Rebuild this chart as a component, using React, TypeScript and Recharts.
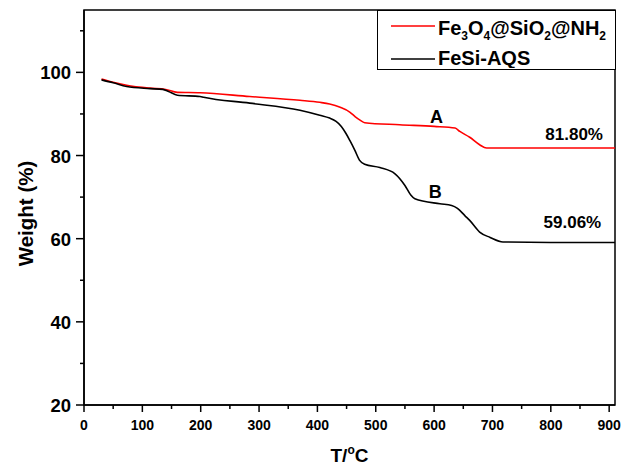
import {
  Label,
  Legend,
  Line,
  LineChart,
  ReferenceArea,
  ReferenceDot,
  XAxis,
  YAxis,
} from 'recharts';

const FONT = '"Liberation Sans", Arial, sans-serif';

// sample A: Fe3O4@SiO2@NH2 (red)
const tempA = [30, 50, 73, 113, 140, 160, 199, 284, 370, 404, 421, 439, 456, 465, 473, 481, 541, 600, 636, 644, 661, 678, 690, 700, 800, 910];
const weightA = [98.4, 97.6, 96.9, 96.2, 95.9, 95.2, 95.1, 94.2, 93.3, 92.8, 92.4, 91.6, 90.4, 89.3, 88.5, 87.9, 87.4, 87.0, 86.6, 85.8, 84.4, 82.6, 81.8, 81.8, 81.8, 81.8];

// sample B: FeSi-AQS (black)
const tempB = [30, 50, 73, 113, 135, 145, 160, 199, 205, 284, 370, 404, 421, 432, 441, 449, 456, 464, 472, 481, 507, 533, 550, 560, 567, 610, 630, 640, 653, 661, 678, 696, 718, 800, 910];
const weightB = [98.2, 97.5, 96.6, 96.1, 95.9, 95.4, 94.5, 94.2, 94.0, 92.6, 90.9, 89.7, 89.0, 88.2, 87.0, 85.3, 83.5, 81.3, 78.9, 77.9, 77.1, 75.6, 72.8, 70.5, 69.6, 68.4, 68.0, 67.3, 65.5, 64.4, 61.6, 60.3, 59.2, 59.1, 59.1];

const xTicks = [0, 50, 100, 150, 200, 250, 300, 350, 400, 450, 500, 550, 600, 650, 700, 750, 800, 850, 900];
const yTicks = [20, 30, 40, 50, 60, 70, 80, 90, 100, 110];

const dataA = tempA.map((t, i) => ({ t, w: weightA[i] }));
const dataB = tempB.map((t, i) => ({ t, w: weightB[i] }));

const XTick = (props: any) => {
  const { x, y, payload } = props;
  const major = payload.value % 100 === 0;
  return (
    <g>
      <line x1={x} y1={y} x2={x} y2={y + (major ? 7 : 4)} stroke="#000" strokeWidth={1.5} />
      {major && (
        <text x={x} y={y + 25} textAnchor="middle" fontSize={14} fontWeight="bold" fontFamily={FONT} fill="#000">
          {payload.value}
        </text>
      )}
    </g>
  );
};

const YTick = (props: any) => {
  const { x, y, payload } = props;
  const major = payload.value % 20 === 0;
  return (
    <g>
      <line x1={x} y1={y} x2={x - (major ? 8 : 4)} y2={y} stroke="#000" strokeWidth={1.5} />
      {major && (
        <text x={x - 13} y={y + 7} textAnchor="end" fontSize={18.5} fontWeight="bold" fontFamily={FONT} fill="#000">
          {payload.value}
        </text>
      )}
    </g>
  );
};

const LegendBox = () => (
  <div style={{ width: 239, height: 60, border: '1.5px solid #000', boxSizing: 'border-box', background: '#fff' }}>
    <svg width={236} height={57} style={{ display: 'block' }}>
      <line x1={13} y1={15} x2={57} y2={15} stroke="#ff0000" strokeWidth={1.5} />
      <text x={60} y={24} fontSize={20} fontWeight="bold" fontFamily={FONT} fill="#000">
        Fe<tspan dy={5} fontSize={12}>3</tspan>
        <tspan dy={-5}>O</tspan>
        <tspan dy={5} fontSize={12}>4</tspan>
        <tspan dy={-5}>@SiO</tspan>
        <tspan dy={5} fontSize={12}>2</tspan>
        <tspan dy={-5}>@NH</tspan>
        <tspan dy={5} fontSize={12}>2</tspan>
      </text>
      <line x1={13} y1={48} x2={57} y2={48} stroke="#000" strokeWidth={1.5} />
      <text x={60} y={54} fontSize={20} fontWeight="bold" fontFamily={FONT} fill="#000">
        FeSi-AQS
      </text>
    </svg>
  </div>
);

const noteStyle = { fontSize: 17, fontWeight: 'bold', fontFamily: FONT, fill: '#000' };

export default function App() {
  return (
    <div style={{ width: 629, height: 468, background: '#fff' }}>
      <style>{'body{margin:0}'}</style>
      <LineChart width={629} height={468} margin={{ top: 10, right: 14, bottom: 33, left: 24 }}>
        <XAxis
          type="number"
          dataKey="t"
          domain={[0, 910]}
          ticks={xTicks}
          allowDataOverflow
          height={30}
          tickSize={0}
          tickMargin={0}
          tickLine={false}
          tick={<XTick />}
          axisLine={{ stroke: '#000', strokeWidth: 1.5 }}
          interval={0}
        >
          <Label
            content={(p: any) => {
              const vb = p.viewBox;
              return (
                <text x={vb.x + vb.width / 2} y={vb.y + 57} textAnchor="middle" fontSize={19} fontWeight="bold" fontFamily={FONT} fill="#000">
                  T/<tspan dy={-8} fontSize={12}>o</tspan>
                  <tspan dy={8}>C</tspan>
                </text>
              );
            }}
          />
        </XAxis>
        <YAxis
          type="number"
          dataKey="w"
          domain={[20, 115]}
          ticks={yTicks}
          allowDataOverflow
          width={60}
          tickSize={0}
          tickMargin={0}
          tickLine={false}
          tick={<YTick />}
          axisLine={{ stroke: '#000', strokeWidth: 1.5 }}
          interval={0}
        >
          <Label
            content={(p: any) => {
              const vb = p.viewBox;
              const cx = vb.x + 1;
              const cy = vb.y + vb.height / 2 + 6;
              return (
                <text transform={`translate(${cx},${cy}) rotate(-90)`} textAnchor="middle" dominantBaseline="central" fontSize={20.5} fontWeight="bold" fontFamily={FONT} fill="#000">
                  Weight (%)
                </text>
              );
            }}
          />
        </YAxis>
        <ReferenceArea x1={0} x2={910} y1={20} y2={115} fill="none" stroke="#000" strokeWidth={1.5} ifOverflow="visible" />
        <Line data={dataA} dataKey="w" type="monotone" stroke="#ff0000" strokeWidth={1.6} dot={false} isAnimationActive={false} />
        <Line data={dataB} dataKey="w" type="monotone" stroke="#000" strokeWidth={1.6} dot={false} isAnimationActive={false} />
        <ReferenceDot x={604} y={89.25} r={0} ifOverflow="visible" label={{ value: 'A', position: 'center', ...noteStyle, fontSize: 18 }} />
        <ReferenceDot x={602} y={71.35} r={0} ifOverflow="visible" label={{ value: 'B', position: 'center', ...noteStyle, fontSize: 18 }} />
        <ReferenceDot x={840} y={85.3} r={0} ifOverflow="visible" label={{ value: '81.80%', position: 'center', ...noteStyle }} />
        <ReferenceDot x={837} y={64.0} r={0} ifOverflow="visible" label={{ value: '59.06%', position: 'center', ...noteStyle }} />
        <Legend
          layout="horizontal"
          verticalAlign="middle"
          align="center"
          content={<LegendBox />}
          wrapperStyle={{ left: 377, top: 10, width: 239, height: 60 }}
        />
      </LineChart>
    </div>
  );
}
